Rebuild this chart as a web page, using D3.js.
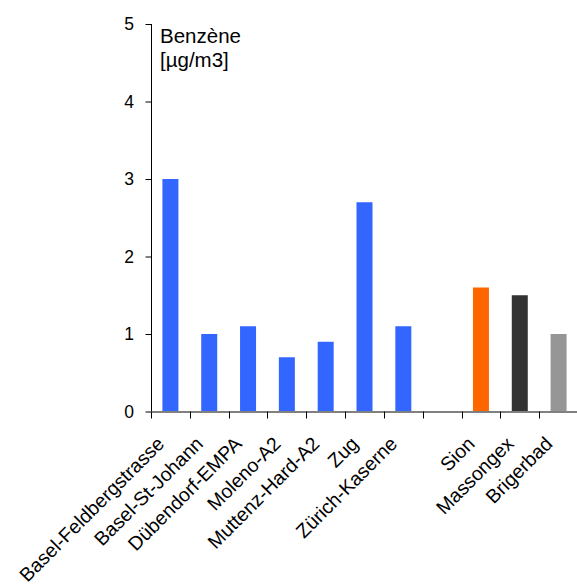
<!DOCTYPE html>
<html><head><meta charset="utf-8">
<script src="https://cdn.jsdelivr.net/npm/d3@7"></script>
<style>body{margin:0;background:#fff}svg{display:block}text{font-family:"Liberation Sans",Arial,sans-serif;fill:#000}</style>
</head><body><svg width="577" height="588"></svg>
<script>
const categories = ["Basel-Feldbergstrasse","Basel-St-Johann","Dübendorf-EMPA","Moleno-A2","Muttenz-Hard-A2","Zug","Zürich-Kaserne","","Sion","Massongex","Brigerbad"];
const values = [3.0,1.0,1.1,0.7,0.9,2.7,1.1,null,1.6,1.5,1.0];
const colors = ["#3366FF","#3366FF","#3366FF","#3366FF","#3366FF","#3366FF","#3366FF","#FFFFFF","#FF6600","#333333","#969696"];
const yTicks = [0,1,2,3,4,5];
const titleLines = ["Benzène","[µg/m3]"];

const svg = d3.select("svg");
const keys = categories.map((c,i)=>i);
const x = d3.scaleBand().domain(keys).range([151,578]).padding(0);
const y = d3.scaleLinear().domain([0,5]).range([411.5,24]);
const barW = 16;

svg.selectAll("rect.bar").data(keys.filter(i=>values[i]!=null)).enter().append("rect")
  .attr("x",i=>x(i)+x.bandwidth()/2-barW/2).attr("width",barW)
  .attr("y",i=>y(values[i])).attr("height",i=>y(0)-y(values[i]))
  .attr("fill",i=>colors[i]);

// y axis
const ya = svg.append("g").attr("transform","translate(151,0)")
  .call(d3.axisLeft(y).tickValues(yTicks).tickSize(6).tickPadding(11).tickFormat(d3.format("d")));
ya.select(".domain").attr("stroke","#000").attr("d","M0.5,24V412");
ya.selectAll(".tick line").attr("stroke","#000").attr("transform","translate(0.5,0)");
ya.selectAll(".tick text").style("font-size","17.5px").attr("font-family",null);

// x axis
svg.append("line").attr("x1",151).attr("x2",577).attr("y1",y(0)+0.5).attr("y2",y(0)+0.5)
  .attr("stroke","#808080").attr("stroke-width",2);
const tickPos = keys.map(i=>x(i)).concat([x(keys[keys.length-1])+x.bandwidth()]);
svg.selectAll("line.xt").data(tickPos).enter().append("line")
  .attr("x1",d=>Math.round(d)+0.5).attr("x2",d=>Math.round(d)+0.5)
  .attr("y1",y(0)).attr("y2",y(0)+7).attr("stroke","#000");

svg.selectAll("text.cat").data(keys).enter().append("text")
  .attr("transform",i=>`translate(${x(i)+x.bandwidth()/2-5},${445}) rotate(-45)`)
  .attr("text-anchor","end").style("font-size","19.5px")
  .text(i=>categories[i]);

svg.selectAll("text.title").data(titleLines).enter().append("text")
  .attr("x",160).attr("y",(d,i)=>43+i*24).style("font-size","20.5px").text(d=>d);
</script></body></html>
